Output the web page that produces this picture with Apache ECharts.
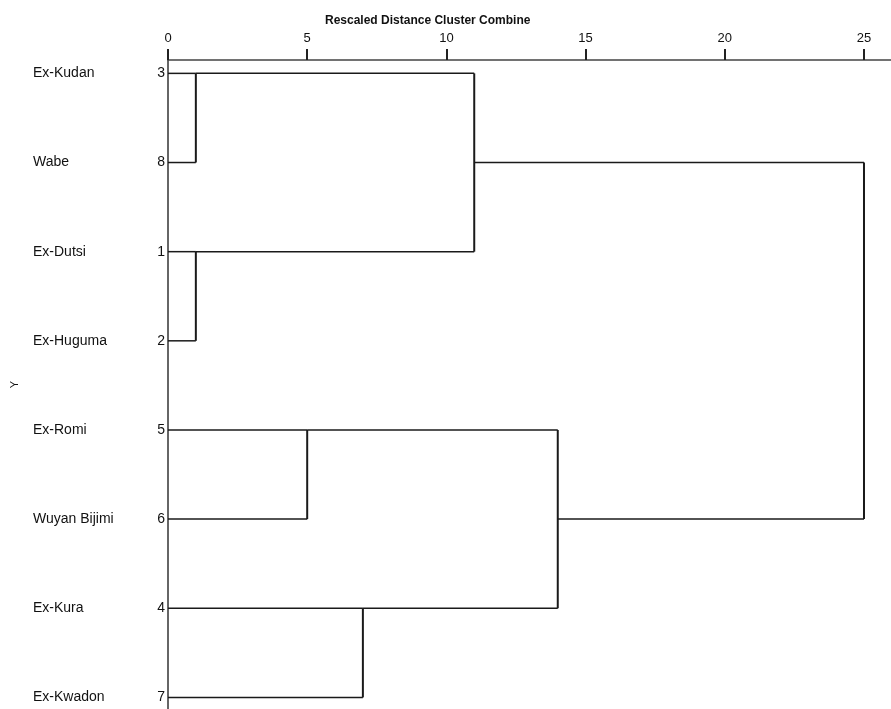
<!DOCTYPE html>
<html>
<head>
<meta charset="utf-8">
<script src="https://cdn.jsdelivr.net/npm/echarts@6/dist/echarts.min.js"></script>
<style>
  html, body { margin: 0; padding: 0; background: #fff; }
  #main { width: 891px; height: 709px; }
</style>
</head>
<body>
<div id="main"></div>
<script>
// leaves, top to bottom, as drawn
const caseNames = ['Ex-Kudan', 'Wabe', 'Ex-Dutsi', 'Ex-Huguma', 'Ex-Romi', 'Wuyan Bijimi', 'Ex-Kura', 'Ex-Kwadon'];
const caseIds = [3, 8, 1, 2, 5, 6, 4, 7];

// merges: L = leaf row, M = earlier merge
const mergeLeft = ['L0', 'L2', 'L4', 'L6', 'M0', 'M2', 'M4'];
const mergeRight = ['L1', 'L3', 'L5', 'L7', 'M1', 'M3', 'M5'];
const mergeDist = [1, 1, 5, 7, 11, 14, 25];

const xTicks = [0, 5, 10, 15, 20, 25];

const chart = echarts.init(document.getElementById('main'));

// position (distance, row) of each node
const mergePos = [];
function nodePos(ref) {
  const i = parseInt(ref.slice(1), 10);
  if (ref[0] === 'L') return [0, i];
  return mergePos[i];
}
const mergeData = [];
mergeDist.forEach((d, i) => {
  const a = nodePos(mergeLeft[i]);
  const b = nodePos(mergeRight[i]);
  mergePos.push([d, Math.floor((a[1] + b[1]) / 2)]);
  mergeData.push([d, a[0], a[1], b[0], b[1]]);
});

const labelData = caseNames.map((n, i) => [0, i, caseIds[i], n]);

const option = {
  backgroundColor: '#fff',
  animation: false,
  title: {
    text: 'Rescaled Distance Cluster Combine',
    left: 320,
    top: 10,
    textStyle: {
      fontFamily: 'Liberation Sans',
      fontSize: 12,
      fontWeight: 'bold',
      color: '#111'
    }
  },
  grid: { left: 168, right: 0, top: 60, bottom: 0, containLabel: false },
  xAxis: {
    type: 'value',
    position: 'top',
    min: 0,
    max: 25.97,
    interval: 5,
    splitLine: { show: false },
    axisLine: { show: true, onZero: false, lineStyle: { color: '#444', width: 1.5 } },
    axisTick: { show: true, length: 11, customValues: xTicks, lineStyle: { color: '#222', width: 2 } },
    axisLabel: {
      margin: 15,
      fontFamily: 'Liberation Sans',
      fontSize: 13,
      color: '#111',
      customValues: xTicks,
      formatter: v => (xTicks.indexOf(v) >= 0 ? String(v) : '')
    }
  },
  yAxis: {
    type: 'value',
    inverse: true,
    min: -0.15,
    max: 7.13,
    name: 'Y',
    nameLocation: 'middle',
    nameRotate: 90,
    nameGap: 148,
    nameTextStyle: { fontFamily: 'Liberation Sans', fontSize: 11, color: '#111' },
    splitLine: { show: false },
    axisTick: { show: false },
    axisLabel: { show: false },
    axisLine: { show: true, onZero: false, lineStyle: { color: '#333', width: 1.5 } }
  },
  series: [
    {
      type: 'custom',
      clip: false,
      data: mergeData,
      encode: { x: [0, 1, 3], y: [2, 4] },
      renderItem: function (params, api) {
        const d = api.value(0);
        const p1 = api.coord([api.value(1), api.value(2)]);
        const p2 = api.coord([d, api.value(2)]);
        const p3 = api.coord([d, api.value(4)]);
        const p4 = api.coord([api.value(3), api.value(4)]);
        const h = { stroke: '#1a1a1a', lineWidth: 1.5 };
        return {
          type: 'group',
          children: [
            { type: 'line', shape: { x1: p1[0], y1: p1[1], x2: p2[0], y2: p2[1] }, style: h },
            { type: 'line', shape: { x1: p4[0], y1: p4[1], x2: p3[0], y2: p3[1] }, style: h },
            { type: 'line', shape: { x1: p2[0], y1: p2[1], x2: p3[0], y2: p3[1] }, style: { stroke: '#1a1a1a', lineWidth: 2 } }
          ]
        };
      }
    },
    {
      type: 'custom',
      clip: false,
      data: labelData,
      renderItem: function (params, api) {
        const p = api.coord([api.value(0), api.value(1)]);
        const item = labelData[params.dataIndex];
        return {
          type: 'group',
          children: [
            {
              type: 'text',
              style: {
                text: item[3], x: p[0] - 135, y: p[1],
                textAlign: 'left', textVerticalAlign: 'middle',
                fill: '#111', font: '14px "Liberation Sans"'
              }
            },
            {
              type: 'text',
              style: {
                text: String(item[2]), x: p[0] - 3, y: p[1],
                textAlign: 'right', textVerticalAlign: 'middle',
                fill: '#111', font: '14px "Liberation Sans"'
              }
            }
          ]
        };
      }
    }
  ]
};

chart.setOption(option);
</script>
</body>
</html>
